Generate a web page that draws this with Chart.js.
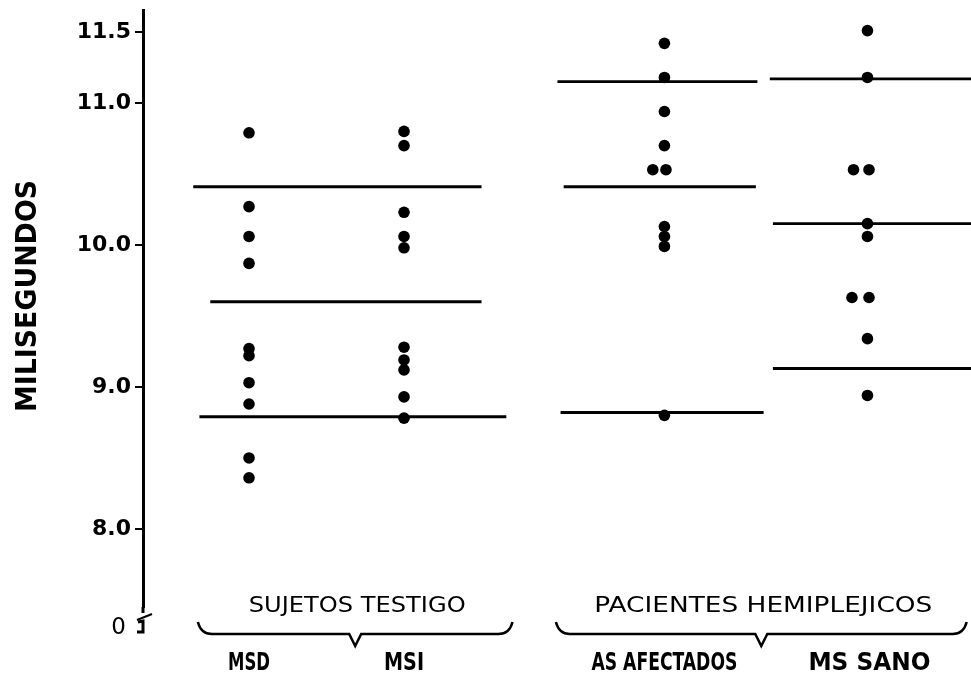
<!DOCTYPE html>
<html>
<head>
<meta charset="utf-8">
<script src="https://cdn.jsdelivr.net/npm/chart.js@4.4.1/dist/chart.umd.min.js"></script>
<style>
  body { margin: 0; background: #fff; }
  canvas { display: block; }
</style>
</head>
<body>
<canvas id="chart" width="971" height="677"></canvas>
<script>
// column positions along the x axis (arbitrary units)
const columns = ['MSD', 'MSI', 'AS AFECTADOS', 'MS SANO'];
const columnX = [1.0, 2.0, 3.68, 4.99];

// individual values (ms)
const msd = [10.79, 10.27, 10.06, 9.87, 9.27, 9.22, 9.03, 8.88, 8.50, 8.36];
const msi = [10.80, 10.70, 10.23, 10.06, 9.98, 9.28, 9.19, 9.12, 8.93, 8.78];
const asAfectados = [11.42, 11.18, 10.94, 10.70, 10.53, 10.53, 10.13, 10.06, 9.99, 8.80];
const msSano = [11.51, 11.18, 10.53, 10.53, 10.15, 10.06, 9.63, 9.63, 9.34, 8.94];
// side-by-side nudge for tied values
const msdShift = [0, 0, 0, 0, 0, 0, 0, 0, 0, 0];
const msiShift = [0, 0, 0, 0, 0, 0, 0, 0, 0, 0];
const asShift = [0, 0, 0, 0, -0.075, 0.01, 0, 0, 0, 0];
const sanoShift = [0, 0, -0.09, 0.01, 0, 0, -0.1, 0.01, 0, 0];

// mean +/- SD lines: level, start and end on x
const lineLevel = [10.41, 9.60, 8.79, 11.15, 10.41, 8.82, 11.17, 10.15, 9.13];
const lineFrom  = [0.64, 0.75, 0.68, 2.99, 3.03, 3.01, 4.36, 4.38, 4.38];
const lineTo    = [2.50, 2.50, 2.66, 4.28, 4.27, 4.32, 5.66, 5.66, 5.66];

const yTicks = [8.0, 9.0, 10.0, 11.0, 11.5];

// group captions under the columns
const groups = ['SUJETOS TESTIGO', 'PACIENTES HEMIPLEJICOS'];
const groupFrom = [0.67, 2.98];
const groupTo = [2.70, 5.63];

const values = [msd, msi, asAfectados, msSano];
const shifts = [msdShift, msiShift, asShift, sanoShift];

const datasets = [];
values.forEach((vals, i) => {
    datasets.push({
        label: columns[i],
        data: vals.map((v, j) => ({ x: columnX[i] + shifts[i][j], y: v })),
        backgroundColor: '#000',
        borderWidth: 0,
        pointRadius: 5.8,
    });
});
lineLevel.forEach((lvl, i) => {
    datasets.push({
        label: 'line' + i,
        data: [{ x: lineFrom[i], y: lvl }, { x: lineTo[i], y: lvl }],
        showLine: true,
        borderColor: '#000',
        borderWidth: 2.8,
        pointRadius: 0,
    });
});

const SANS = '"DejaVu Sans", sans-serif';
const NARROW = '"Liberation Sans Narrow", "DejaVu Sans Condensed", "DejaVu Sans", sans-serif';

// draw text squeezed/stretched to a given width
function fitText(ctx, text, cx, cy, width, font) {
    ctx.save();
    ctx.font = font;
    const w = ctx.measureText(text).width;
    ctx.translate(cx, cy);
    ctx.scale(width / w, 1);
    ctx.textAlign = 'center';
    ctx.textBaseline = 'middle';
    ctx.fillText(text, 0, 0);
    ctx.restore();
}

const decor = {
    id: 'decor',
    afterDraw(chart) {
        const ctx = chart.ctx;
        const x = chart.scales.x;
        const area = chart.chartArea;
        ctx.save();
        ctx.fillStyle = '#000';
        ctx.strokeStyle = '#000';
        ctx.lineWidth = 3;

        // axis break and the zero stub
        const ax = area.left;
        ctx.beginPath();
        ctx.moveTo(ax, area.bottom);
        ctx.lineTo(ax, area.bottom + 6);
        ctx.stroke();
        ctx.lineWidth = 2;
        ctx.beginPath();
        ctx.moveTo(ax - 6, area.bottom + 13);
        ctx.lineTo(ax + 9, area.bottom + 7);
        ctx.stroke();
        ctx.lineWidth = 3;
        ctx.beginPath();
        ctx.moveTo(ax - 5, area.bottom + 15);
        ctx.lineTo(ax, area.bottom + 14);
        ctx.lineTo(ax, area.bottom + 25);
        ctx.lineTo(ax - 6, area.bottom + 25);
        ctx.stroke();
        ctx.font = '23px ' + SANS;
        ctx.textAlign = 'right';
        ctx.textBaseline = 'middle';
        ctx.fillText('0', ax - 17, area.bottom + 21);

        // y title
        ctx.save();
        ctx.translate(29, 296);
        ctx.rotate(-Math.PI / 2);
        fitText(ctx, 'MILISEGUNDOS', 0, 0, 232, 'bold 28px ' + NARROW);
        ctx.restore();

        // group captions with braces
        ctx.lineWidth = 2.5;
        groups.forEach((g, i) => {
            const x1 = x.getPixelForValue(groupFrom[i]);
            const x2 = x.getPixelForValue(groupTo[i]);
            const mid = (x1 + x2) / 2;
            const top = area.bottom + 15;
            const bar = area.bottom + 27;
            const tip = area.bottom + 39;
            fitText(ctx, g, mid + 2, area.bottom, i === 0 ? 217 : 338, '21px ' + SANS);
            ctx.beginPath();
            ctx.moveTo(x1, top);
            ctx.quadraticCurveTo(x1 + 3, bar, x1 + 14, bar);
            ctx.lineTo(mid - 6, bar);
            ctx.lineTo(mid, tip);
            ctx.lineTo(mid + 6, bar);
            ctx.lineTo(x2 - 14, bar);
            ctx.quadraticCurveTo(x2 - 3, bar, x2, top);
            ctx.stroke();
        });

        // column captions
        const capW = [42, 40, 146, 122];
        columns.forEach((c, i) => {
            fitText(ctx, c, x.getPixelForValue(columnX[i]) + (i === 3 ? 2 : 0), area.bottom + 56, capW[i], 'bold 25px ' + NARROW);
        });
        ctx.restore();
    }
};

new Chart(document.getElementById('chart').getContext('2d'), {
    type: 'scatter',
    data: { datasets },
    options: {
        responsive: false,
        animation: false,
        layout: { autoPadding: false, padding: { top: 10, bottom: 70, left: 0, right: 0 } },
        plugins: {
            legend: { display: false },
            tooltip: { enabled: false },
        },
        scales: {
            x: { type: 'linear', display: false, min: 0.316, max: 5.658 },
            y: {
                min: 7.45,
                max: 11.655,
                afterFit: s => { s.width = 143; s.paddingTop = 0; s.paddingBottom = 0; },
                afterBuildTicks: s => { s.ticks = yTicks.map(v => ({ value: v })); },
                ticks: {
                    color: '#000',
                    padding: 4,
                    font: { family: SANS, size: 22, weight: 'bold' },
                    callback: v => v.toFixed(1),
                },
                grid: { drawOnChartArea: false, drawTicks: true, tickLength: 8, color: '#000', lineWidth: 2 },
                border: { color: '#000', width: 3 },
            },
        },
    },
    plugins: [decor],
});
</script>
</body>
</html>
